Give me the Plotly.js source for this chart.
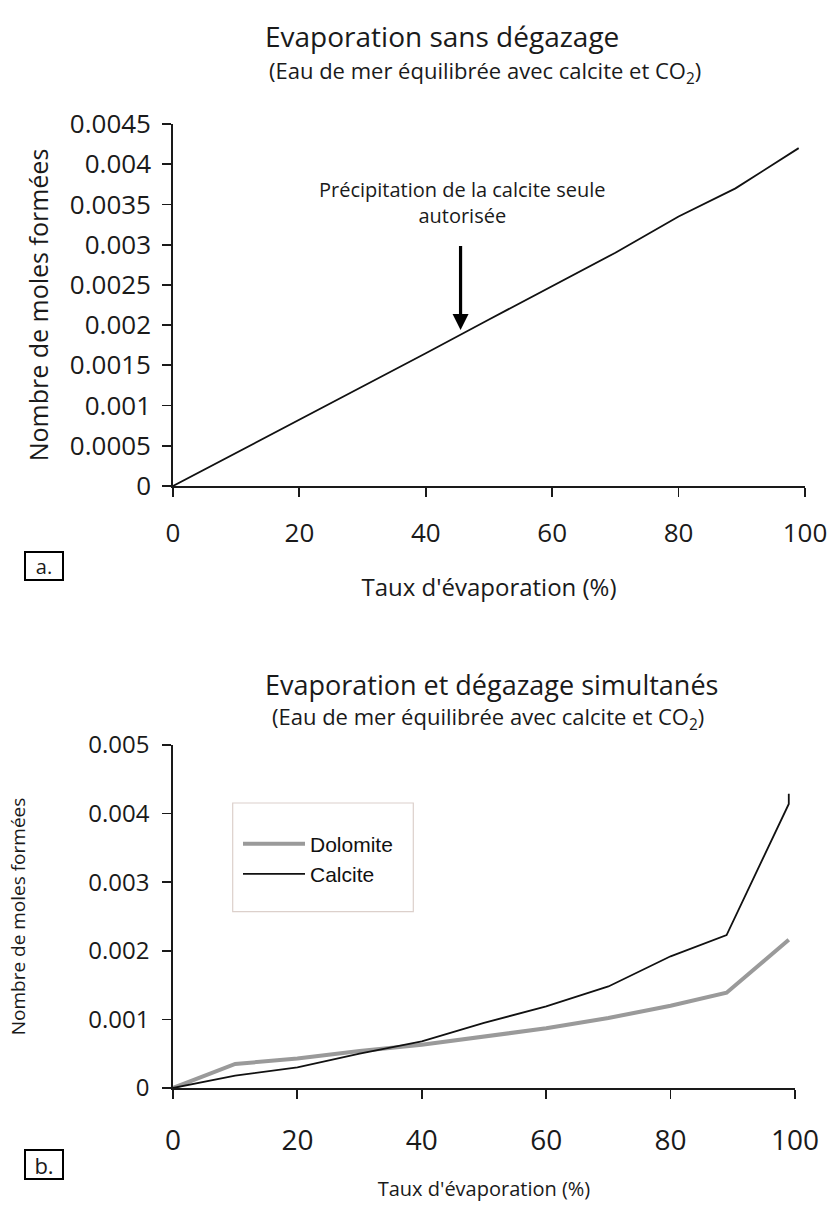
<!DOCTYPE html>
<html>
<head>
<meta charset="utf-8">
<script src="https://cdn.plot.ly/plotly-3.0.1.min.js"></script>
<style>
  html, body { margin: 0; padding: 0; background: #ffffff; }
  #chart { width: 833px; height: 1211px; }
</style>
</head>
<body>
<div id="chart"></div>
<script>
// ---------- data ----------
// Panel a: evaporation without degassing (calcite only)
const evapTop = [0, 10, 20, 30, 40, 50, 60, 70, 80, 89, 99];
const calciteTop = [0, 0.00041, 0.00082, 0.00124, 0.00165, 0.00207, 0.00248, 0.0029, 0.00335, 0.0037, 0.0042];

// Panel b: simultaneous evaporation and degassing
const evapDolomite = [0, 10, 20, 30, 40, 50, 60, 70, 80, 89, 99];
const dolomiteB = [0, 0.00035, 0.00043, 0.00054, 0.00063, 0.00075, 0.00087, 0.00102, 0.0012, 0.00139, 0.00216];
const evapCalcite = [0, 10, 20, 30, 40, 50, 60, 70, 80, 89, 99, 99];
const calciteB = [0, 0.00018, 0.0003, 0.0005, 0.00068, 0.00095, 0.00119, 0.00148, 0.00192, 0.00223, 0.00414, 0.00429];

// tick labels
const xTicks = [0, 20, 40, 60, 80, 100];
const xTickText = ["0", "20", "40", "60", "80", "100"];
const yTicksTop = [0, 0.0005, 0.001, 0.0015, 0.002, 0.0025, 0.003, 0.0035, 0.004, 0.0045];
const yTickTextTop = ["0", "0.0005", "0.001", "0.0015", "0.002", "0.0025", "0.003", "0.0035", "0.004", "0.0045"];
const yTicksBottom = [0, 0.001, 0.002, 0.003, 0.004, 0.005];
const yTickTextBottom = ["0", "0.001", "0.002", "0.003", "0.004", "0.005"];

// ---------- helpers ----------
const W = 833, H = 1211;
const px = v => v / W;
const py = v => 1 - v / H;
const INK = '#1a1a1a';
const MYR = '"Open Sans", "Noto Sans", sans-serif';
const ARIAL = '"Liberation Sans Narrow", "Liberation Sans", Arial, sans-serif';

function axisBase(extra) {
  return Object.assign({
    showgrid: false, zeroline: false, showline: true,
    linecolor: INK, linewidth: 1.8,
    ticks: 'outside', ticklen: 9, tickwidth: 1.8, tickcolor: INK,
    tickmode: 'array', fixedrange: true,
    tickfont: { family: MYR, color: INK }
  }, extra);
}

const traces = [
  {
    x: evapTop, y: calciteTop, xaxis: 'x', yaxis: 'y',
    type: 'scatter', mode: 'lines', name: 'Calcite seule',
    line: { color: '#111111', width: 1.8 }, showlegend: false
  },
  {
    x: evapDolomite, y: dolomiteB, xaxis: 'x2', yaxis: 'y2',
    type: 'scatter', mode: 'lines', name: 'Dolomite',
    line: { color: '#9a9a9a', width: 4 }
  },
  {
    x: evapCalcite, y: calciteB, xaxis: 'x2', yaxis: 'y2',
    type: 'scatter', mode: 'lines', name: 'Calcite',
    line: { color: '#111111', width: 1.8 }
  }
];

const layout = {
  width: W, height: H,
  margin: { l: 0, r: 0, t: 0, b: 0 },
  paper_bgcolor: '#ffffff', plot_bgcolor: 'rgba(0,0,0,0)',
  font: { family: MYR, color: INK },
  xaxis: axisBase({
    domain: [px(173), px(805)], range: [0, 100], anchor: 'y',
    tickvals: xTicks, ticktext: xTickText,
    tickfont: { family: MYR, color: INK, size: 26 },
    ticklabelstandoff: 14,
    title: { text: "Taux d'évaporation (%)", font: { family: MYR, size: 24, color: INK }, standoff: 30 }
  }),
  yaxis: axisBase({
    domain: [py(486), py(124)], range: [0, 0.0045], anchor: 'x',
    tickvals: yTicksTop, ticktext: yTickTextTop,
    tickfont: { family: MYR, color: INK, size: 26 },
    ticklabelstandoff: 6,
    title: { text: 'Nombre de moles formées', font: { family: MYR, size: 25, color: INK }, standoff: 14 }
  }),
  xaxis2: axisBase({
    domain: [px(173), px(795)], range: [0, 100], anchor: 'y2',
    tickvals: xTicks, ticktext: xTickText,
    tickfont: { family: MYR, color: INK, size: 28 },
    ticklabelstandoff: 18,
    title: { text: "Taux d'évaporation (%)", font: { family: MYR, size: 20, color: INK }, standoff: 24 }
  }),
  yaxis2: axisBase({
    domain: [py(1088), py(745)], range: [0, 0.005], anchor: 'x2',
    tickvals: yTicksBottom, ticktext: yTickTextBottom,
    tickfont: { family: MYR, color: INK, size: 24 },
    ticklabelstandoff: 8,
    title: { text: 'Nombre de moles formées', font: { family: MYR, size: 19, color: INK }, standoff: 57 }
  }),
  showlegend: true,
  legend: {
    x: px(238), y: py(859), xanchor: 'left', yanchor: 'middle',
    bgcolor: 'rgba(0,0,0,0)', borderwidth: 0,
    font: { family: ARIAL, size: 21, color: '#111111' },
    itemwidth: 62, tracegroupgap: 0
  },
  shapes: [
    {
      type: 'rect', xref: 'paper', yref: 'paper',
      x0: px(232.7), x1: px(413.3), y0: py(911.7), y1: py(803),
      line: { color: '#dcd0cb', width: 1.2 }, fillcolor: 'rgba(0,0,0,0)', layer: 'below'
    }
  ],
  annotations: [
    { xref: 'paper', yref: 'paper', x: px(442), y: py(36), xanchor: 'center', yanchor: 'middle',
      showarrow: false, text: 'Evaporation sans dégazage', font: { family: MYR, size: 28, color: INK } },
    { xref: 'paper', yref: 'paper', x: px(485), y: py(72), xanchor: 'center', yanchor: 'middle',
      showarrow: false, text: '(Eau de mer équilibrée avec calcite et CO<sub>2</sub>)', font: { family: MYR, size: 22, color: INK } },
    { xref: 'paper', yref: 'paper', x: px(491), y: py(684), xanchor: 'center', yanchor: 'middle',
      showarrow: false, text: 'Evaporation et dégazage simultanés', font: { family: MYR, size: 27, color: INK } },
    { xref: 'paper', yref: 'paper', x: px(488), y: py(718), xanchor: 'center', yanchor: 'middle',
      showarrow: false, text: '(Eau de mer équilibrée avec calcite et CO<sub>2</sub>)', font: { family: MYR, size: 22, color: INK } },
    { xref: 'paper', yref: 'paper', x: px(462), y: py(203), xanchor: 'center', yanchor: 'middle',
      showarrow: false, align: 'center',
      text: 'Précipitation de la calcite seule<br>autorisée', font: { family: MYR, size: 20, color: INK } },
    { xref: 'x', yref: 'y', x: 45.5, y: 0.00194, ax: 0, ay: -94, axref: 'pixel', ayref: 'pixel',
      showarrow: true, text: ' ', arrowhead: 2, arrowsize: 1, arrowwidth: 3.2, arrowcolor: '#000000', standoff: 0 },
    { xref: 'paper', yref: 'paper', x: px(44), y: py(566), xanchor: 'center', yanchor: 'middle',
      showarrow: false, text: 'a.', font: { family: MYR, size: 20, color: INK },
      width: 34, height: 24, align: 'center',
      bordercolor: '#000000', borderwidth: 2, borderpad: 1 },
    { xref: 'paper', yref: 'paper', x: px(44), y: py(1164), xanchor: 'center', yanchor: 'middle',
      showarrow: false, text: 'b.', font: { family: MYR, size: 22, color: INK },
      width: 34, height: 25, align: 'center',
      bordercolor: '#000000', borderwidth: 2, borderpad: 1 }
  ]
};

Plotly.newPlot('chart', traces, layout, { displayModeBar: false, staticPlot: true });
</script>
</body>
</html>
